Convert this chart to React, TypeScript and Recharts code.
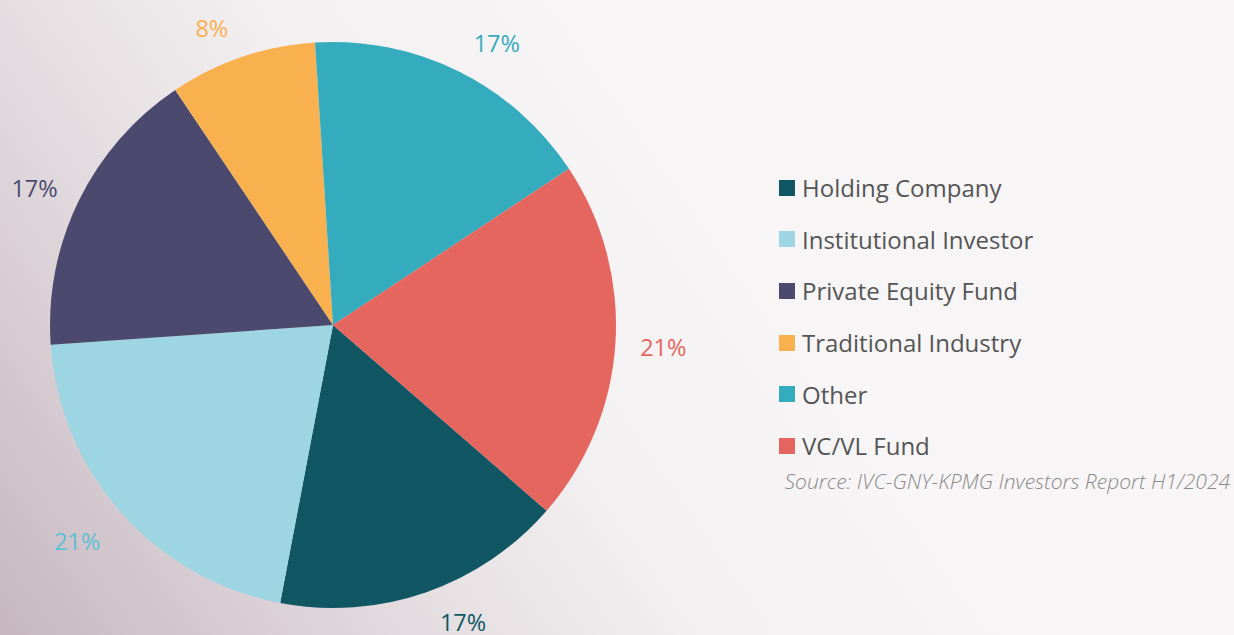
import { Pie, PieChart, Cell } from 'recharts'

const categories = ['Holding Company', 'Institutional Investor', 'Private Equity Fund', 'Traditional Industry', 'Other', 'VC/VL Fund']
const shares = [16.6, 20.9, 16.7, 8.4, 16.7, 20.7]
const percentLabels = ['17%', '21%', '17%', '8%', '17%', '21%']
const sliceColors = ['#105663', '#9dd5e2', '#4b4a6e', '#f9b04f', '#35acbd', '#e4665e']
const labelColors = ['#105663', '#5fbfd6', '#4b4a6e', '#f9b04f', '#35acbd', '#e4665e']
const sourceNote = 'Source: IVC-GNY-KPMG Investors Report H1/2024'

// small hand nudges so the percent labels sit where the original placed them
const labelNudge = [
  [22, -15],
  [-9, -3],
  [-2, 8],
  [-15, 15],
  [17, 14],
  [1, 0],
]

const RAD = Math.PI / 180

const renderLabel = (props: any) => {
  const { cx, cy, midAngle, outerRadius, index } = props
  const r = outerRadius + 47
  const x = cx + r * Math.cos(-midAngle * RAD) + labelNudge[index][0]
  const y = cy + r * Math.sin(-midAngle * RAD) + labelNudge[index][1]
  return (
    <text x={x} y={y} fill={labelColors[index]} textAnchor="middle" dominantBaseline="central" fontSize={23.5} fontFamily="'Open Sans', sans-serif">
      {percentLabels[index]}
    </text>
  )
}

export default function App() {
  const data = categories.map((name, i) => ({ name, value: shares[i] }))
  return (
    <div
      style={{
        position: 'fixed',
        left: 0,
        top: 0,
        width: 1234,
        height: 635,
        overflow: 'hidden',
        background: 'linear-gradient(55deg, #c6b7c0 0%, #d7ccd2 14%, #e6e0e3 28%, #f3f0f1 42%, #f7f5f6 60%, #f7f5f6 100%)',
        fontFamily: "'Open Sans', sans-serif",
      }}
    >
      <PieChart width={1234} height={635} margin={{ top: 0, right: 0, bottom: 0, left: 0 }}>
        <Pie
          data={data}
          dataKey="value"
          cx={333}
          cy={325}
          outerRadius={283}
          startAngle={-41}
          endAngle={-401}
          stroke="none"
          label={renderLabel}
          labelLine={false}
          isAnimationActive={false}
        >
          {data.map((d, i) => (
            <Cell key={d.name} fill={sliceColors[i]} />
          ))}
        </Pie>
      </PieChart>
      <div style={{ position: 'absolute', left: 779, top: 162 }}>
        {categories.map((c, i) => (
          <div key={c} style={{ display: 'flex', alignItems: 'center', height: 51.6 }}>
            <span style={{ width: 16, height: 16, background: sliceColors[i], display: 'inline-block', marginRight: 7 }} />
            <span style={{ fontSize: 24, color: '#555555', whiteSpace: 'nowrap' }}>{c}</span>
          </div>
        ))}
      </div>
      <div
        style={{
          position: 'absolute',
          right: 4,
          top: 467,
          fontSize: 21,
          fontWeight: 300,
          fontStyle: 'italic',
          color: '#8a8a8a',
          whiteSpace: 'nowrap',
        }}
      >
        {sourceNote}
      </div>
    </div>
  )
}
